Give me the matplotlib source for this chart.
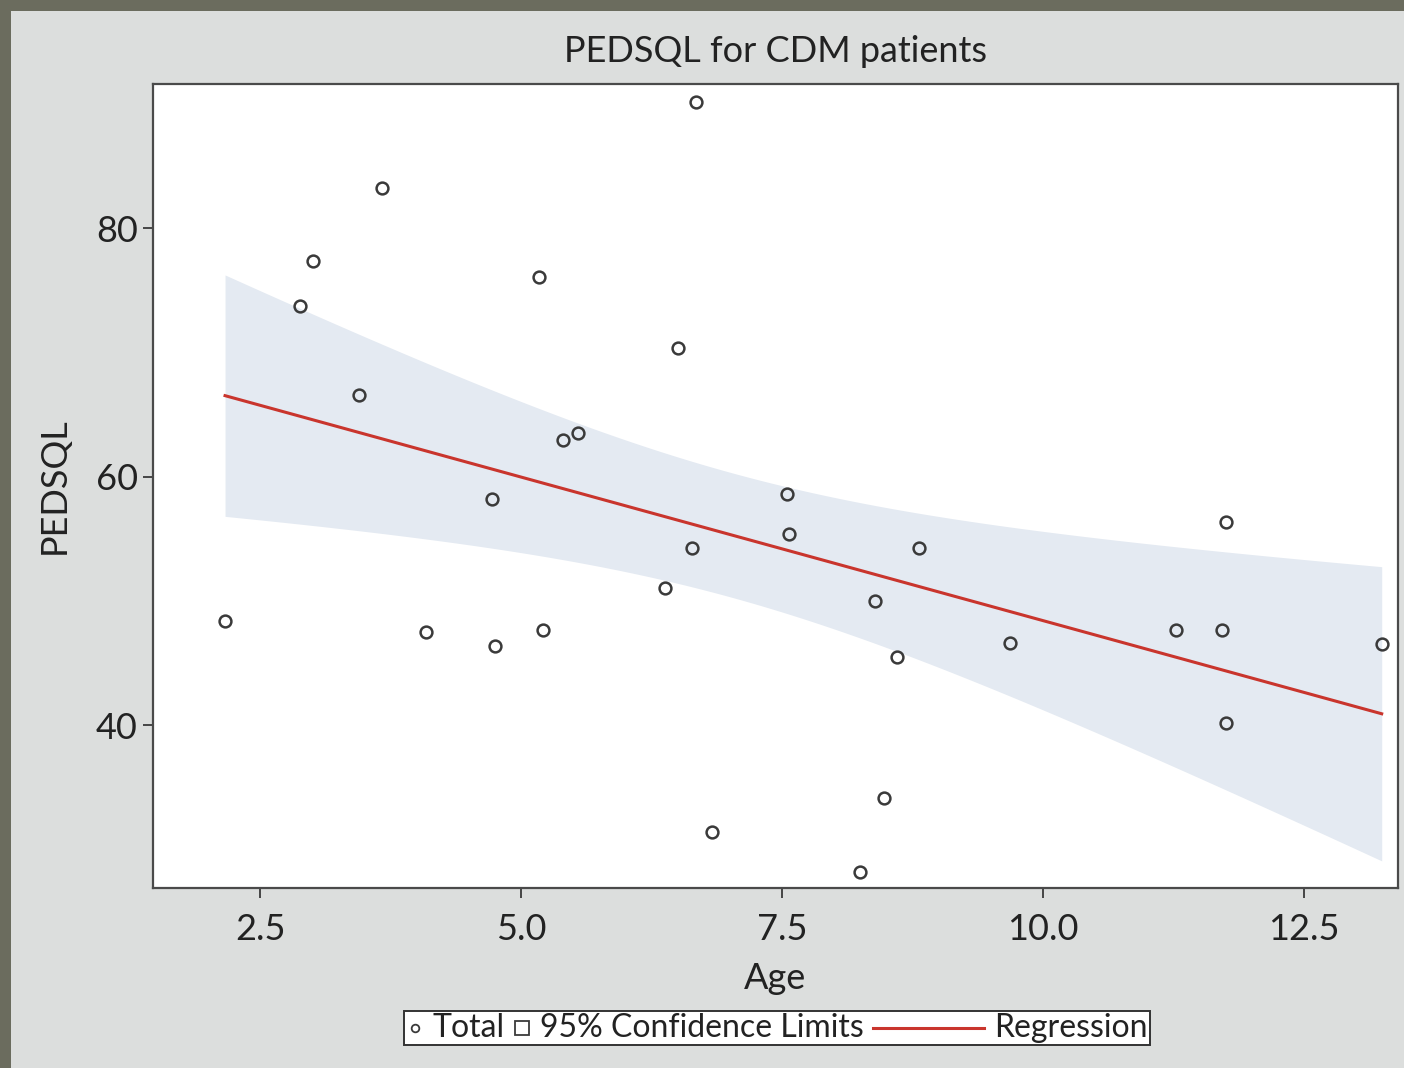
import numpy as np
import matplotlib
matplotlib.use('Agg')
from matplotlib import pyplot as plt
from matplotlib.lines import Line2D
from matplotlib.patches import Rectangle
from matplotlib.offsetbox import AnchoredOffsetbox, HPacker, DrawingArea, TextArea

plt.rcParams['font.family'] = ['Liberation Sans Narrow', 'Lato', 'DejaVu Sans']

age = [2.165, 2.883, 3.005, 3.451, 3.666, 4.087, 4.725, 4.751, 5.172, 5.214,
       5.399, 5.549, 6.379, 6.507, 6.635, 6.676, 6.827, 7.545, 7.567, 8.247,
       8.391, 8.477, 8.599, 8.815, 9.684, 11.274, 11.717, 11.753, 11.753, 13.244]
pedsql = [48.42, 73.70, 77.33, 66.59, 83.24, 47.49, 58.22, 46.41, 76.07, 47.67,
          62.97, 63.51, 51.08, 70.35, 54.25, 90.13, 31.43, 58.60, 55.38, 28.21,
          50.01, 34.12, 45.52, 54.30, 46.60, 47.67, 47.67, 56.39, 40.21, 46.55]
xticks = [2.5, 5.0, 7.5, 10.0, 12.5]
yticks = [40, 60, 80]

BAND = '#e4eaf2'
RED = '#c9352d'
INK = '#3a3a3a'
FS = 26

x = np.asarray(age)
y = np.asarray(pedsql)

# least squares fit with 95% confidence limits for the mean
n = len(x)
slope, intercept = np.polyfit(x, y, 1)
resid = y - (intercept + slope * x)
s = np.sqrt(np.sum(resid ** 2) / (n - 2))
t975 = 2.0484  # t quantile, 28 degrees of freedom
xs = np.linspace(x.min(), x.max(), 200)
fit = intercept + slope * xs
half = t975 * s * np.sqrt(1 / n + (xs - x.mean()) ** 2 / np.sum((x - x.mean()) ** 2))

fig = plt.figure(figsize=(14.04, 10.68), dpi=100, facecolor='#6b6c5e')
fig.add_artist(Rectangle((11 / 1404, 0), 1, 1 - 11 / 1068, transform=fig.transFigure,
                         facecolor='#dcdedd', edgecolor='none', zorder=-10))

ax = fig.add_axes([153 / 1404, 1 - 888 / 1068, 1245 / 1404, 804 / 1068])
ax.set_facecolor('white')
ax.fill_between(xs, fit - half, fit + half, color=BAND, lw=0, zorder=1)
ax.plot(xs, fit, color=RED, lw=2.2, zorder=2)
ax.plot(x, y, ls='none', marker='o', ms=8.5, mfc='none', mec=INK, mew=1.8, zorder=3)

ax.set_xlim(1.475, 13.40)
ax.set_ylim(26.9, 91.6)
ax.set_xticks(xticks)
ax.set_xticklabels([f'{v:.1f}' for v in xticks])
ax.set_yticks(yticks)
ax.tick_params(length=7, width=1.3, color=INK, labelsize=FS, pad=4, labelcolor='#222')
ax.tick_params(axis='x', pad=11)
for sp in ax.spines.values():
    sp.set_color('#4a4a4a')
    sp.set_linewidth(1.6)

ax.set_title('PEDSQL for CDM patients', fontsize=FS, y=1.04, pad=0, va='center', color='#222')
ax.set_xlabel('Age', fontsize=FS, va='center', color='#222')
ax.xaxis.set_label_coords(0.5, -0.112)
ax.set_ylabel('PEDSQL', fontsize=FS, va='center', color='#222')
ax.yaxis.set_label_coords(-0.079, 0.5)

# legend row: marker, label, swatch, label, line, label
h = 20
circ = DrawingArea(12, h)
circ.add_artist(Line2D([6], [h / 2], ls='none', marker='o', ms=5.5, mfc='none', mec=INK, mew=1.3))
sq = DrawingArea(11, h)
sq.add_artist(Rectangle((0.5, h / 2 - 5), 10, 10, facecolor='white', edgecolor=INK, lw=1.3))
ln = DrawingArea(80, h)
ln.add_artist(Line2D([0, 80], [h / 2, h / 2], color=RED, lw=2.2))
tp = dict(fontsize=23, color='#222')
row = HPacker(children=[circ, TextArea('Total', textprops=tp), sq,
                        TextArea('95% Confidence Limits', textprops=tp), ln,
                        TextArea('Regression', textprops=tp)],
              align='center', pad=0, sep=7)
leg = AnchoredOffsetbox(loc='center', child=row, pad=0.15, borderpad=0, frameon=True,
                        bbox_to_anchor=(777 / 1404, 1 - 1028 / 1068),
                        bbox_transform=fig.transFigure)
leg.patch.set_edgecolor('#333')
leg.patch.set_linewidth(1.4)
leg.patch.set_facecolor('white')
fig.add_artist(leg)

fig.savefig('out.png', dpi=100, facecolor=fig.get_facecolor())
